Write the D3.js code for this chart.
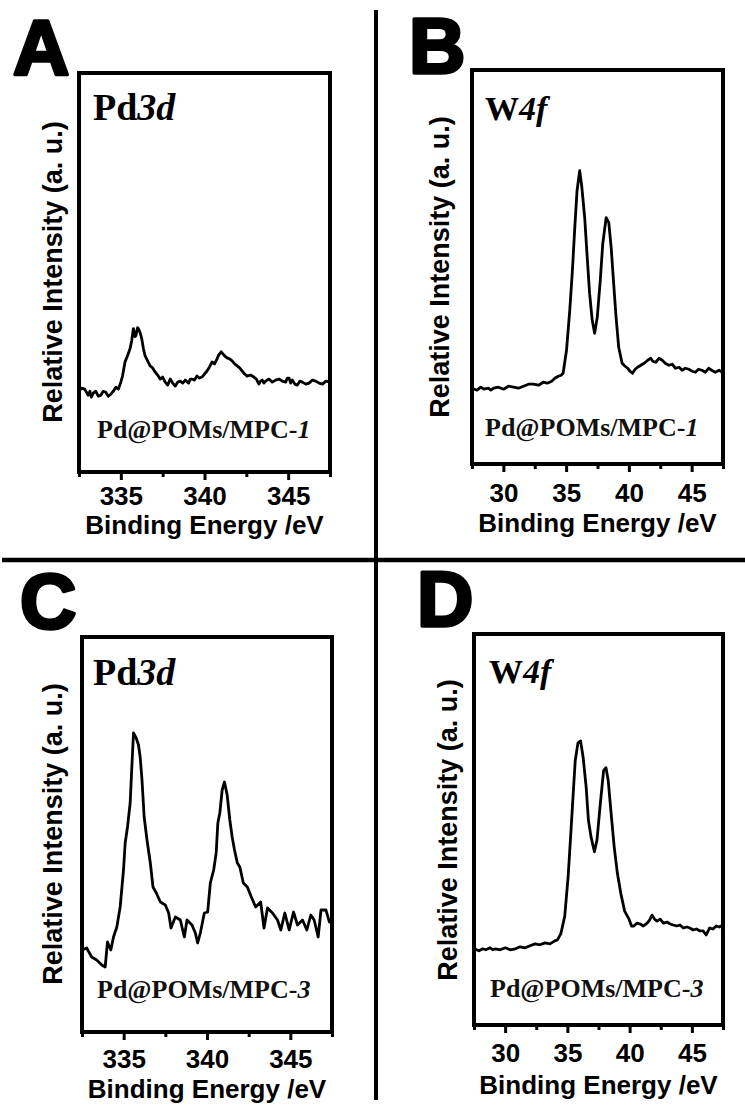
<!DOCTYPE html>
<html>
<head>
<meta charset="utf-8">
<script src="https://cdn.jsdelivr.net/npm/d3@7"></script>
<style>
  body { margin: 0; background: #fff; }
  svg { display: block; }
</style>
</head>
<body>
<svg id="fig" width="745" height="1106"></svg>
<script>
// ---- XPS spectra (binding energy in eV, intensity in arbitrary units) ----

// Pd 3d region, Pd@POMs/MPC-1
const pd1Energy = [332.5, 332.65, 332.84, 332.95, 333.05, 333.15, 333.24, 333.35, 333.5, 333.65, 333.8, 333.95, 334.1, 334.25, 334.4, 334.55, 334.7, 334.85, 335.0, 335.1, 335.25, 335.4, 335.55, 335.65, 335.75, 335.85, 335.9, 336.0, 336.05, 336.15, 336.25, 336.35, 336.45, 336.6, 336.75, 336.9, 337.05, 337.2, 337.35, 337.5, 337.65, 337.8, 337.95, 338.1, 338.25, 338.4, 338.55, 338.7, 338.85, 339.05, 339.15, 339.25, 339.4, 339.55, 339.7, 339.85, 340.0, 340.15, 340.3, 340.45, 340.6, 340.75, 340.85, 341.0, 341.1, 341.2, 341.35, 341.5, 341.65, 341.8, 341.95, 342.1, 342.25, 342.4, 342.55, 342.75, 342.95, 343.1, 343.25, 343.35, 343.45, 343.55, 343.65, 343.85, 344.05, 344.25, 344.45, 344.65, 344.85, 344.95, 345.05, 345.15, 345.25, 345.4, 345.55, 345.7, 345.85, 346.05, 346.25, 346.45, 346.65, 346.85, 347.05, 347.25, 347.5];
const pd1Intensity = [80, 83, 82, 79, 76, 80, 74, 78, 80, 75, 76, 80, 79, 75, 77, 80, 84, 82, 89, 95, 109, 115, 122, 130, 142, 134, 135, 143, 142, 138, 132, 122, 115, 110, 105, 103, 99, 96, 92, 94, 89, 86, 92, 88, 85, 89, 90, 88, 91, 88, 92, 92, 91, 95, 93, 94, 97, 100, 104, 109, 107, 112, 116, 119, 117, 115, 113, 112, 110, 107, 105, 103, 100, 97, 95, 96, 94, 92, 87, 90, 91, 88, 90, 92, 89, 91, 92, 90, 89, 93, 93, 88, 91, 87, 86, 90, 89, 87, 88, 91, 90, 88, 87, 90, 89];

// W 4f region, Pd@POMs/MPC-1
const w1Energy = [27.5, 27.9, 28.2, 28.44, 28.8, 29.0, 29.23, 29.6, 30.02, 30.4, 30.81, 31.2, 31.6, 32.0, 32.39, 32.8, 33.18, 33.5, 33.85, 34.1, 34.37, 34.6, 34.76, 35.03, 35.29, 35.5, 35.69, 35.87, 36.08, 36.24, 36.48, 36.66, 36.87, 37.08, 37.27, 37.48, 37.72, 37.92, 38.19, 38.4, 38.59, 38.77, 38.98, 39.19, 39.46, 39.7, 39.9, 40.1, 40.29, 40.5, 40.69, 40.95, 41.22, 41.5, 41.74, 41.9, 42.14, 42.4, 42.66, 42.9, 43.19, 43.45, 43.72, 44.0, 44.24, 44.5, 44.77, 45.05, 45.3, 45.55, 45.82, 46.1, 46.35, 46.6, 46.88, 47.2, 47.5];
const w1Intensity = [76, 74, 77, 75, 76, 74, 76, 77, 75, 78, 77, 76, 78, 80, 80, 79, 82, 81, 83, 86, 88, 89, 91, 114, 154, 194, 237, 274, 294, 279, 247, 211, 171, 144, 131, 147, 184, 221, 247, 242, 217, 184, 147, 117, 101, 98, 96, 93, 91, 95, 97, 99, 101, 104, 106, 103, 102, 106, 104, 101, 99, 100, 96, 97, 94, 96, 95, 93, 92, 95, 94, 92, 96, 94, 92, 94, 91];

// Pd 3d region, Pd@POMs/MPC-3
const pd3Energy = [332.5, 332.78, 333.08, 333.38, 333.69, 333.89, 334.03, 334.23, 334.39, 334.59, 334.79, 334.99, 335.09, 335.23, 335.39, 335.49, 335.59, 335.75, 335.89, 335.99, 336.1, 336.23, 336.4, 336.6, 336.76, 336.96, 337.2, 337.5, 337.7, 337.84, 338.1, 338.4, 338.64, 338.8, 339.1, 339.3, 339.44, 339.6, 339.84, 340.04, 340.2, 340.4, 340.55, 340.65, 340.77, 340.91, 341.05, 341.21, 341.37, 341.51, 341.65, 341.82, 341.97, 342.18, 342.42, 342.66, 342.92, 343.22, 343.42, 343.63, 343.93, 344.23, 344.43, 344.67, 344.93, 345.19, 345.43, 345.73, 345.99, 346.23, 346.43, 346.67, 346.84, 347.14, 347.34, 347.5];
const pd3Intensity = [82, 84, 75, 72, 67, 65, 90, 82, 95, 105, 125, 162, 189, 205, 229, 265, 299, 294, 287, 275, 252, 215, 192, 169, 145, 139, 130, 127, 119, 104, 115, 112, 95, 112, 107, 99, 89, 99, 119, 120, 149, 162, 179, 209, 219, 242, 250, 237, 212, 195, 182, 169, 165, 149, 145, 135, 125, 130, 104, 124, 119, 112, 102, 119, 102, 120, 107, 112, 102, 117, 112, 95, 122, 122, 110, 112];

// W 4f region, Pd@POMs/MPC-3
const w3Energy = [27.5, 27.9, 28.2, 28.44, 28.8, 29.0, 29.23, 29.6, 30.02, 30.4, 30.82, 31.2, 31.61, 32.0, 32.41, 32.8, 33.2, 33.6, 33.99, 34.2, 34.47, 34.79, 35.06, 35.26, 35.45, 35.63, 35.85, 36.06, 36.27, 36.51, 36.69, 36.9, 37.17, 37.38, 37.64, 37.91, 38.1, 38.28, 38.49, 38.76, 39.02, 39.29, 39.6, 39.95, 40.15, 40.34, 40.6, 40.87, 41.1, 41.41, 41.6, 41.8, 42.0, 42.2, 42.45, 42.72, 43.0, 43.25, 43.5, 43.79, 44.05, 44.31, 44.6, 44.84, 45.1, 45.37, 45.65, 45.9, 46.15, 46.43, 46.7, 46.96, 47.2, 47.5];
const w3Intensity = [77, 75, 77, 76, 78, 76, 77, 76, 78, 76, 77, 79, 78, 80, 82, 81, 83, 82, 85, 86, 92, 110, 150, 190, 230, 267, 285, 287, 270, 240, 207, 190, 175, 187, 223, 257, 260, 247, 217, 180, 153, 133, 115, 107, 100, 100, 103, 102, 100, 103, 106, 111, 107, 105, 107, 103, 104, 102, 101, 100, 101, 98, 99, 98, 96, 97, 95, 95, 91, 98, 97, 100, 99, 101];

// Axis ranges and ticks
const pdDomain = [332.5, 347.5];
const wDomain = [27.5, 47.5];
const intensityDomain = [0, 400];
const pdMajorTicks = [335, 340, 345];
const pdMinorTicks = [332.5, 337.5, 342.5, 347.5];
const wMajorTicks = [30, 35, 40, 45];
const wMinorTicks = [27.5, 32.5, 37.5, 42.5, 47.5];

// Panel text
const panelLetters = ["A", "B", "C", "D"];
const coreLevels = [["Pd", "3d"], ["W", "4f"], ["Pd", "3d"], ["W", "4f"]];
const sampleNames = [["Pd@POMs/MPC-", "1"], ["Pd@POMs/MPC-", "1"], ["Pd@POMs/MPC-", "3"], ["Pd@POMs/MPC-", "3"]];
const xTitle = "Binding Energy /eV";
const yTitle = "Relative Intensity (a. u.)";

// ---- layout of the four frames ----
const layout = [
  { x0: 79,  y0: 73,  x1: 330, y1: 472,  letter: [13, 75],   core: [93, 120],  coreSize: 38, sample: [97, 438],  yt: [62, 272],  xt: 534, tl: 33 },
  { x0: 472, y0: 70,  x1: 723, y1: 464,  letter: [409, 73],  core: [485, 120], coreSize: 34, sample: [485, 436], yt: [449, 267], xt: 531.5, tl: 38 },
  { x0: 82,  y0: 637, x1: 332, y1: 1032, letter: [20, 628],  core: [93, 685],  coreSize: 38, sample: [97, 998],  yt: [62, 834],  xt: 1097.5, tl: 36 },
  { x0: 474, y0: 634, x1: 723, y1: 1025, letter: [417, 626], core: [489, 683], coreSize: 34, sample: [490, 997], yt: [457, 830], xt: 1094, tl: 37 }
];

const spectra = [
  { energy: pd1Energy, intensity: pd1Intensity, domain: pdDomain, major: pdMajorTicks, minor: pdMinorTicks },
  { energy: w1Energy,  intensity: w1Intensity,  domain: wDomain,  major: wMajorTicks,  minor: wMinorTicks },
  { energy: pd3Energy, intensity: pd3Intensity, domain: pdDomain, major: pdMajorTicks, minor: pdMinorTicks },
  { energy: w3Energy,  intensity: w3Intensity,  domain: wDomain,  major: wMajorTicks,  minor: wMinorTicks }
];

const SANS = "'Liberation Sans', Arial, Helvetica, sans-serif";
const SERIF = "'Liberation Serif', 'Times New Roman', Times, serif";

const svg = d3.select("#fig");
svg.append("rect").attr("width", 745).attr("height", 1106).attr("fill", "#fff");

// quadrant dividers
svg.append("line").attr("x1", 376).attr("x2", 376).attr("y1", 10).attr("y2", 1100)
  .attr("stroke", "#000").attr("stroke-width", 4);
svg.append("line").attr("x1", 2).attr("x2", 745).attr("y1", 560).attr("y2", 560)
  .attr("stroke", "#000").attr("stroke-width", 4.5);

spectra.forEach((s, i) => {
  const L = layout[i];
  const x = d3.scaleLinear().domain(s.domain).range([L.x0, L.x1]);
  const y = d3.scaleLinear().domain(intensityDomain).range([L.y1, L.y1 - 400 * (L.y1 - L.y0) / 395]);
  const g = svg.append("g");

  // spectrum trace
  const pts = s.energy.map((e, k) => [e, s.intensity[k]]);
  const line = d3.line().x(d => x(d[0])).y(d => y(d[1]));
  g.append("path").datum(pts)
    .attr("d", line)
    .attr("fill", "none")
    .attr("stroke", "#000")
    .attr("stroke-width", 2.8)
    .attr("stroke-linejoin", "round");

  // bottom axis: major ticks with labels
  const major = d3.axisBottom(x).tickValues(s.major).tickSize(8).tickFormat(d3.format("d"));
  const gMaj = g.append("g").attr("transform", `translate(0,${L.y1})`).call(major);
  gMaj.select(".domain").remove();
  gMaj.selectAll(".tick line").attr("stroke", "#000").attr("stroke-width", 3);
  gMaj.selectAll(".tick text")
    .attr("y", L.tl).attr("dy", 0)
    .attr("fill", "#000")
    .style("font-family", SANS).style("font-weight", "bold").style("font-size", "26px");

  // minor ticks
  const minor = d3.axisBottom(x).tickValues(s.minor).tickSize(5).tickFormat("");
  const gMin = g.append("g").attr("transform", `translate(0,${L.y1})`).call(minor);
  gMin.select(".domain").remove();
  gMin.selectAll(".tick line").attr("stroke", "#000").attr("stroke-width", 3);

  // frame
  g.append("rect")
    .attr("x", L.x0).attr("y", L.y0)
    .attr("width", L.x1 - L.x0).attr("height", L.y1 - L.y0)
    .attr("fill", "none").attr("stroke", "#000").attr("stroke-width", 4);

  // axis titles
  g.append("text")
    .attr("x", (L.x0 + L.x1) / 2).attr("y", L.xt)
    .attr("text-anchor", "middle")
    .style("font-family", SANS).style("font-weight", "bold").style("font-size", "26px")
    .text(xTitle);
  g.append("text")
    .attr("transform", `translate(${L.yt[0]},${L.yt[1]}) rotate(-90)`)
    .attr("text-anchor", "middle")
    .style("font-family", SANS).style("font-weight", "bold").style("font-size", "27px")
    .text(yTitle);

  // panel letter
  g.append("text")
    .attr("x", L.letter[0]).attr("y", L.letter[1])
    .style("font-family", SANS).style("font-weight", "bold").style("font-size", "78px")
    .attr("stroke", "#000").attr("stroke-width", 3.5).attr("stroke-linejoin", "round")
    .text(panelLetters[i]);

  // core level label
  const core = g.append("text")
    .attr("x", L.core[0]).attr("y", L.core[1])
    .style("font-family", SERIF).style("font-weight", "bold").style("font-size", L.coreSize + "px");
  core.append("tspan").text(coreLevels[i][0]);
  core.append("tspan").style("font-style", "italic").text(coreLevels[i][1]);

  // sample name
  const samp = g.append("text")
    .attr("x", L.sample[0]).attr("y", L.sample[1])
    .attr("fill", "#111")
    .style("font-family", SERIF).style("font-weight", "bold").style("font-size", "26px");
  samp.append("tspan").text(sampleNames[i][0]);
  samp.append("tspan").style("font-style", "italic").text(sampleNames[i][1]);
});
</script>
</body>
</html>
